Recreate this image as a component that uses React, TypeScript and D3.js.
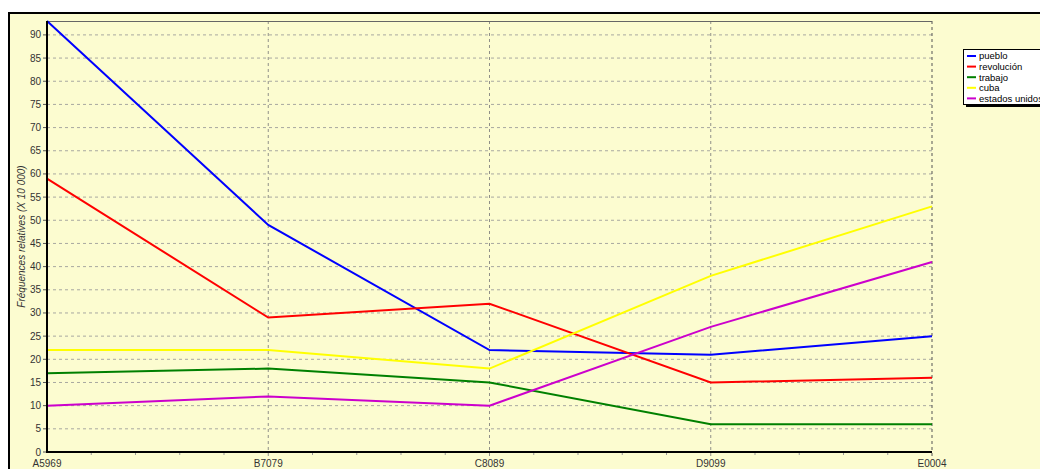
import React, { useRef, useEffect } from 'react';
import * as d3 from 'd3';

const categories = ['A5969', 'B7079', 'C8089', 'D9099', 'E0004'];
const seriesNames = ['pueblo', 'revolución', 'trabajo', 'cuba', 'estados unidos'];
const seriesColors = ['#0000ff', '#ff0000', '#008000', '#ffff00', '#cc00cc'];
const pueblo = [93, 49, 22, 21, 25];
const revolucion = [59, 29, 32, 15, 16];
const trabajo = [17, 18, 15, 6, 6];
const cuba = [22, 22, 18, 38, 53];
const estadosUnidos = [10, 12, 10, 27, 41];
const yTicks = d3.range(0, 95, 5);
const yLabel = 'Fréquences relatives (X 10 000)';

const series = [pueblo, revolucion, trabajo, cuba, estadosUnidos];

function App() {
    const svgRef = useRef(null);

    useEffect(() => {
        const svg = d3.select(svgRef.current);
        svg.selectAll('*').remove();

        const W = 1040, H = 469;
        const left = 47, right = 932, top = 21, bottom = 452;
        const font = '"Liberation Sans", Arial, sans-serif';

        // frame
        svg.append('rect').attr('x', 0).attr('y', 0).attr('width', W).attr('height', H).attr('fill', '#fff');
        svg.append('rect').attr('x', 9).attr('y', 13).attr('width', W + 10).attr('height', H)
            .attr('fill', '#fcfcd0').attr('stroke', '#000').attr('stroke-width', 2);

        const x = d3.scalePoint().domain(categories).range([left, right]);
        const y = d3.scaleLinear().domain([0, d3.max(series.flat())]).range([bottom, top]);

        // grid
        svg.append('g').selectAll('line').data(yTicks.filter(d => d > 0)).join('line')
            .attr('x1', left).attr('x2', right).attr('y1', d => y(d)).attr('y2', d => y(d))
            .attr('stroke', '#a8a8a0').attr('stroke-dasharray', '3,3');
        svg.append('g').selectAll('line').data(categories.slice(1)).join('line')
            .attr('x1', d => x(d)).attr('x2', d => x(d)).attr('y1', top).attr('y2', bottom + 4)
            .attr('stroke', d => d === categories[categories.length - 1] ? '#555' : '#909088')
            .attr('stroke-dasharray', '3,3');
        svg.append('line').attr('x1', left).attr('x2', right).attr('y1', top + 0.5).attr('y2', top + 0.5)
            .attr('stroke', '#666');

        // minor x ticks
        const step = x.step();
        const minor = [];
        categories.slice(0, -1).forEach(c => {
            for (let i = 1; i < 5; i++) minor.push(x(c) + step * i / 5);
        });
        svg.append('g').selectAll('line').data(minor).join('line')
            .attr('x1', d => d).attr('x2', d => d).attr('y1', bottom).attr('y2', bottom + 3)
            .attr('stroke', '#999');

        // y ticks
        const yg = svg.append('g');
        yg.selectAll('line').data(yTicks).join('line')
            .attr('x1', left - 4).attr('x2', left).attr('y1', d => y(d)).attr('y2', d => y(d))
            .attr('stroke', '#555');
        yg.selectAll('text').data(yTicks).join('text')
            .attr('x', left - 6).attr('y', d => y(d)).attr('dy', '0.35em')
            .attr('text-anchor', 'end').attr('font-family', font).attr('font-size', 10)
            .attr('fill', '#333').text(d => d);

        // x labels
        svg.append('g').selectAll('text').data(categories).join('text')
            .attr('x', d => x(d)).attr('y', 467).attr('text-anchor', 'middle')
            .attr('font-family', font).attr('font-size', 10).attr('fill', '#333').text(d => d);

        // y label
        svg.append('text')
            .attr('transform', `translate(25,${(top + bottom) / 2}) rotate(-90)`)
            .attr('text-anchor', 'middle').attr('font-family', font).attr('font-size', 10)
            .attr('font-style', 'italic').attr('fill', '#333').text(yLabel);

        // series
        const line = d3.line().x((d, i) => x(categories[i])).y(d => y(d));
        svg.append('g').selectAll('path').data(series).join('path')
            .attr('d', d => line(d)).attr('fill', 'none')
            .attr('stroke', (d, i) => seriesColors[i]).attr('stroke-width', 2);

        // axes
        svg.append('line').attr('x1', left).attr('x2', left).attr('y1', top).attr('y2', bottom + 1)
            .attr('stroke', '#000').attr('stroke-width', 2);
        svg.append('line').attr('x1', left).attr('x2', right).attr('y1', bottom).attr('y2', bottom)
            .attr('stroke', '#000').attr('stroke-width', 2);

        // legend
        const lx = 963, ly = 49, lh = 55;
        svg.append('rect').attr('x', lx + 3).attr('y', ly + 3).attr('width', 100).attr('height', lh).attr('fill', '#000');
        svg.append('rect').attr('x', lx + 0.5).attr('y', ly + 0.5).attr('width', 100).attr('height', lh)
            .attr('fill', '#fff').attr('stroke', '#000');
        const items = svg.append('g').selectAll('g').data(seriesNames).join('g')
            .attr('transform', (d, i) => `translate(${lx},${ly + 7 + i * 10.6})`);
        items.append('line').attr('x1', 4).attr('x2', 13).attr('y1', 0).attr('y2', 0)
            .attr('stroke', (d, i) => seriesColors[i]).attr('stroke-width', 2);
        items.append('text').attr('x', 16).attr('dy', '0.35em').attr('font-family', font)
            .attr('font-size', 9.5).attr('fill', '#000').text(d => d);
    }, []);

    return (
        <svg ref={svgRef} width={1040} height={469}
            style={{ position: 'absolute', left: 0, top: 0, display: 'block' }}></svg>
    );
}

export default App;
